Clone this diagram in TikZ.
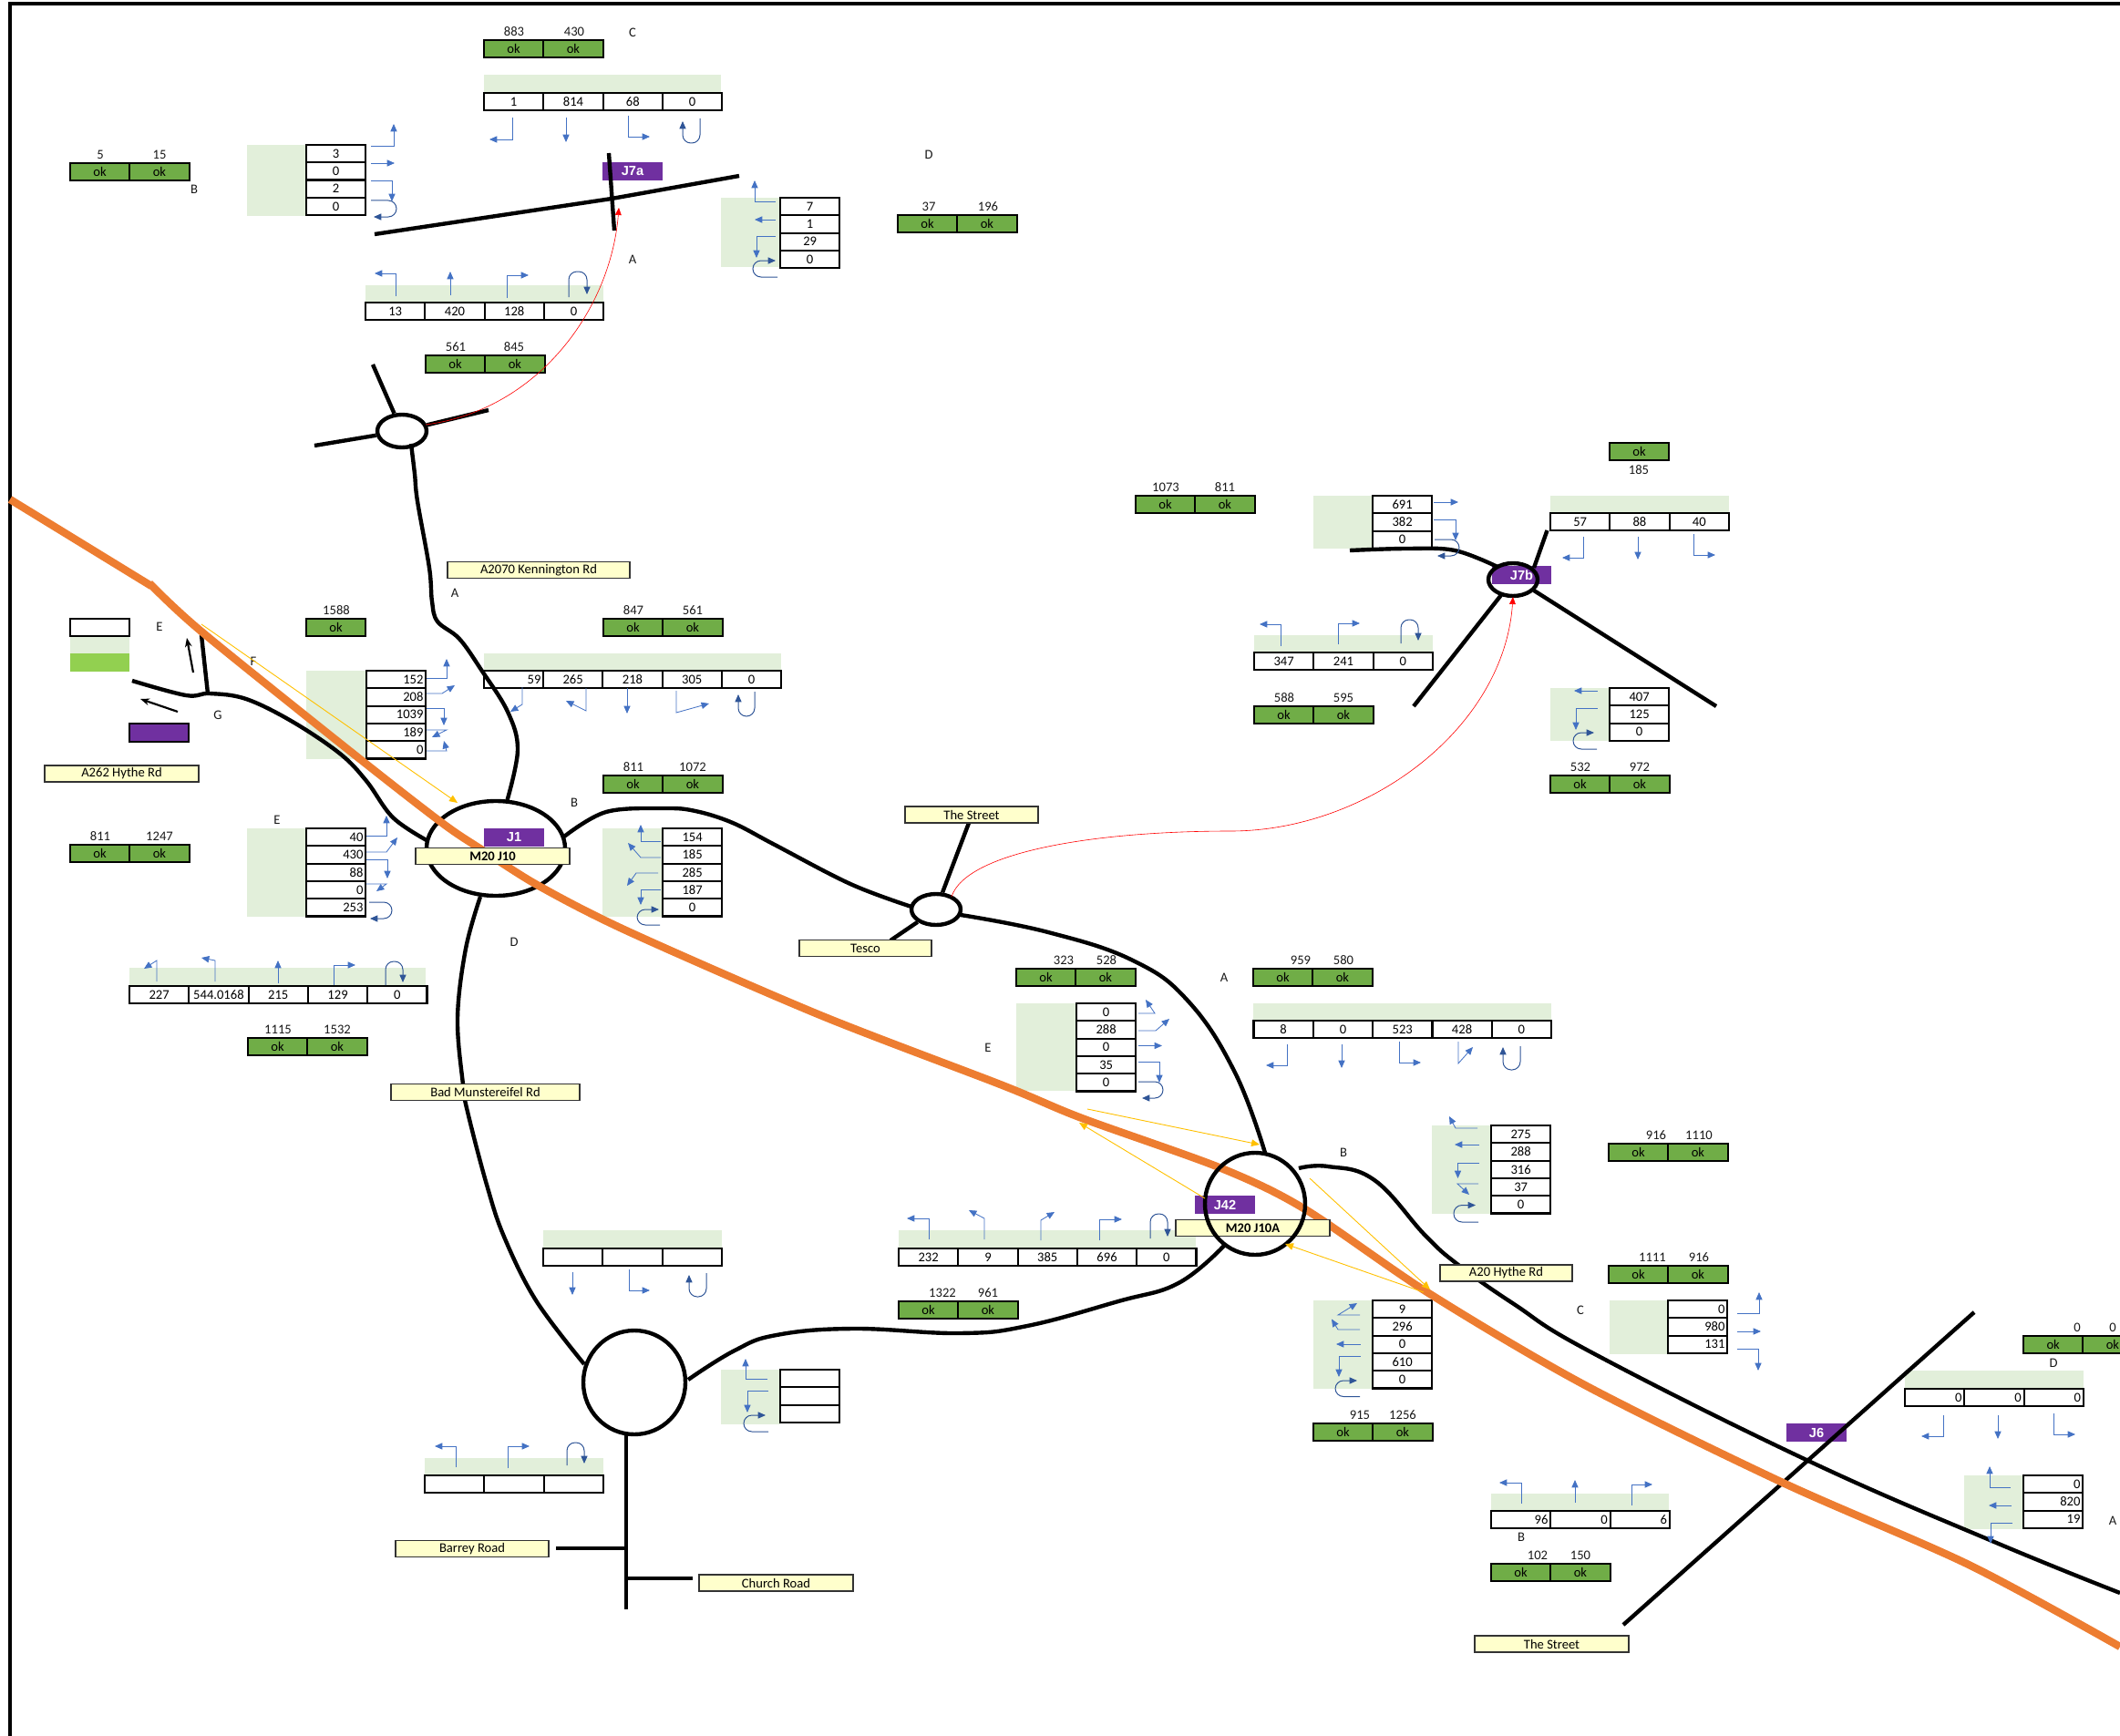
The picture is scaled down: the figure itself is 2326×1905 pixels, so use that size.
\documentclass[tikz,border=0pt]{standalone}
\usepackage{fontspec}
\setmainfont{Carlito}
\newfontfamily\jfont{Liberation Sans}
\usetikzlibrary{shapes.geometric,arrows.meta}
\definecolor{okgreen}{HTML}{70AD47}
\definecolor{lggreen}{HTML}{92D050}
\definecolor{tintgrn}{HTML}{E2EFDA}
\definecolor{jpurple}{HTML}{7030A0}
\definecolor{mwayorg}{HTML}{ED7D31}
\definecolor{rdyellow}{HTML}{FFFFCC}
\definecolor{arryell}{HTML}{FFC000}
\definecolor{turnblue}{HTML}{4472C4}
\definecolor{utrnblue}{HTML}{2F5597}
\newcommand{\tblfont}{\fontsize{7.3}{8.8}\selectfont}
\tikzset{
  cell/.style={rectangle,draw=black,fill=white,line width=1.1pt,anchor=north west,
    minimum width=32.65pt,minimum height=9.65pt,inner sep=0pt,outer sep=0pt,
    font=\tblfont,align=center},
  rcell/.style={cell,text width=29.8pt,align=right},
  okcell/.style={cell,fill=okgreen},
  num/.style={font=\tblfont,inner sep=0pt,text=black!90},
  lbl/.style={font=\tblfont,inner sep=0pt,text=black!90},
  tint/.style={fill=tintgrn,draw=none},
  jbox/.style={rectangle,fill=jpurple,text=white,font=\jfont\tblfont\bfseries,
    minimum width=32.6pt,minimum height=10pt,inner sep=0pt},
  rdbox/.style={rectangle,draw=black!80,fill=rdyellow,line width=.6pt,
    minimum height=9pt,inner sep=0pt,font=\tblfont},
  road/.style={draw=black,line width=2.2pt},
  rbt/.style={ellipse,draw=black,line width=2.2pt,inner sep=0pt},
  mway/.style={draw=mwayorg,line width=4.2pt},
  turn/.style={-{Triangle[length=4.2pt,width=3.6pt]},line width=.42pt,color=turnblue},
  uturn/.style={-{Triangle[length=4.2pt,width=3.6pt]},line width=.5pt,color=utrnblue,rounded corners=4.5pt},
  yarr/.style={-{Triangle[length=4.5pt,width=3.8pt]},line width=.45pt,color=arryell},
  rarr/.style={-{Triangle[length=4pt,width=3.4pt]},line width=.3pt,color=red},
  barr/.style={-{Stealth[length=5pt,width=3.8pt]},line width=1.1pt,color=black},
}
\begin{document}
\begin{tikzpicture}[x=.5pt,y=-.5pt]
  \useasboundingbox (0,0) rectangle (2326,1905);
  \draw[line width=2.4pt] (11,1905)--(11,4)--(2326,4);

  % shaded blocks
  \foreach \xa/\ya/\xb/\yb in {531/82/791/102,271/159/336/237,791/217/856/293,401/313/662/332,
      531/717/857/736,336/736/402/833,271/909/336/1006,661/909/727/1006,142/1062/467/1082,
      77/698/142/717,596/1350/792/1370,791/1503/856/1563,466/1600/662/1619,
      1375/1101/1702/1120,1115/1101/1181/1197,986/1350/1312/1370,1571/1235/1636/1332,
      1441/1427/1506/1524,1766/1427/1830/1486,2090/1504/2286/1524,2155/1619/2220/1678,
      1636/1639/1831/1658,1701/544/1897/563,1701/755/1766/813,1441/544/1506/602,1376/697/1572/716}
    \path[tint] (\xa,\ya) rectangle (\xb,\yb);
  \fill[lggreen] (77,717) rectangle (142,737);
  \node[cell] (lgwhite) at (77,679) {};

  % count tables
  \foreach \nm/\xa/\ya/\st/\vals in {tC/531/102/cell/{1,814,68,0},tA/401/332/cell/{13,420,128,0},
      uA/531/736/rcell/{59},uB/596/736/cell/{265,218,305,0},
      uD/142/1082/cell/{227,544.0168,215,129,0},uT/596/1370/cell/{{},{},{}},uL/466/1619/cell/{{},{},{}},
      vA/1375.5/1120/cell/{8,0,523,428,0},vW/986/1370/cell/{232,9,385,696,0},
      wD/2090/1524/rcell/{0,0,0},wB/1636/1658/rcell/{96,0,6},
      xN/1701/563/cell/{57,88,40},xS/1376/716/cell/{347,241,0}}
    \foreach \v [count=\i] in \vals
      \node[\st] (\nm\i) at ({\xa+(\i-1)*65.3},\ya) {\v};
  \foreach \nm/\xa/\ya/\st/\vals in {tB/336/159/cell/{3,0,2,0},tD/856/217/cell/{7,1,29,0},
      uF/402/736/rcell/{152,208,1039,189,0},uE/336/909/rcell/{40,430,88,0,253},
      uR/727/909/cell/{154,185,285,187,0},uM/856/1503/cell/{{},{},{}},
      vE/1181/1101/cell/{0,288,0,35,0},vB/1636/1235/cell/{275,288,316,37,0},
      vS/1506/1427/cell/{9,296,0,610,0},wC/1830/1427/rcell/{0,980,131},wA/2220/1619/rcell/{0,820,19},
      xW/1506/544/cell/{691,382,0},xE/1766/755/cell/{407,125,0}}
    \foreach \v [count=\i] in \vals
      \node[\st] (\nm\i) at (\xa,{\ya+(\i-1)*19.3}) {\v};

  % ok pairs with their counts
  \foreach \nm/\xa/\ya/\na/\xna/\nb/\xnb in {aC/531/44/883/564/430/630,aB/77/179/5/110/15/175,
      aD/985/236/37/1019/196/1084,aA/467/390/561/500/845/564,bA/662/679/847/695/561/760,
      bB/662/851/811/695/1072/760,bE/77/927/811/110/1247/175,bD/272/1139/1115/305/1532/370,
      cA/1375/1063/959/1427/580/1474,cE/1115/1063/323/1167/528/1214,cW/986/1428/1322/1034/961/1084,
      cB/1765/1255/916/1817/1110/1864,cC/1765/1389/1111/1813/916/1864,cS/1441/1562/915/1492/1256/1539,
      dW/1246/544/1073/1279/811/1344,dS/1376/775/588/1409/595/1474,dE/1701/851/532/1734/972/1799,
      eD/2220/1466/0/2279/0/2318,eB/1636/1716/102/1687/150/1734} {
    \node[okcell] (\nm a) at (\xa,\ya) {ok};
    \node[okcell] (\nm b) at ({\xa+65.3},\ya) {ok};
    \node[num] (\nm na) at (\xna,{\ya-9}) {\na};
    \node[num] (\nm nb) at (\xnb,{\ya-9}) {\nb};
  }
  \node[okcell] (bF) at (336,679) {ok};
  \node[num] (bFn) at (369,670) {1588};
  \node[okcell] (dN) at (1766,486) {ok};
  \node[num] (dNn) at (1798,516) {185};

  \foreach \t/\x/\y [count=\i] in {C/694/36,B/213/208,D/1019/170,A/694/285,A/499/651,E/175/688,F/278/726,
      G/239/785,E/304/900,B/630/881,D/564/1034,A/1343/1073,E/1084/1150,B/1474/1265,C/1734/1438,
      D/2253/1496,A/2318/1669,B/1669/1687}
    \node[lbl] (arm\i) at (\x,\y) {\t};

  % junction tags
  \node[jbox] (j7a) at (694,188) {J7a};
  \node[jbox] (j7b) at (1669.5,631) {J7b};
  \node[jbox] (j1) at (564,919) {J1};
  \node[jbox] (j42) at (1344,1322) {J42};
  \node[jbox] (j6) at (1993,1572) {J6};
  \node[jbox,draw=black,line width=1pt] (lgpurple) at (174.5,803.5) {};

  % roads
  \draw[road] (411,257)--(671,218)--(811,193);
  \draw[road] (668,168)--(674,253);
  \node[rbt,minimum width=27pt,minimum height=18pt] (rbken) at (441,473) {};
  \draw[road] (409,400)--(rbken);
  \draw[road] (345,489)--(rbken);
  \draw[road] (rbken)--(536,450);
  \node[rbt,minimum width=76pt,minimum height=52pt] (rbj1) at (544,931) {};
  \node[rbt,minimum width=27pt,minimum height=17pt] (rbtes) at (1027,998) {};
  \node[rbt,minimum width=56pt,minimum height=57pt] (rbbig) at (696,1517) {};
  \node[rbt,minimum width=27pt,minimum height=18pt] (rbj7b) at (1660,636) {};
  \draw[road] plot[smooth,tension=.6] coordinates {(451,487) (455,520) (458,550) (471,623) (474,660) (480,682) (504,701) (528,735) (557,781) (568,823) (556,880)};
  \draw[road] plot[smooth,tension=.6] coordinates {(145,747) (204,763) (230,761) (270,767) (321,792) (373,827) (402,857) (431,897) (468,922)};
  \draw[road] (221,697)--(228,761);
  \draw[road] plot[smooth,tension=.6] coordinates {(619,918) (665,891) (729,887) (763,890) (804,903) (850,927) (933,970) (1000,995)};
  \draw[road] plot[smooth,tension=.6] coordinates {(527,984) (511,1041) (502,1117) (508,1190) (513,1220) (534,1300) (553,1357) (588,1427) (641,1497)};
  \draw[road] (1063,903)--(rbtes);
  \draw[road] (rbtes)--(977,1032);
  \draw[road] plot[smooth,tension=.7] coordinates {(1054,1004) (1150,1023) (1243,1054) (1304,1099) (1355,1177) (1388,1265)};
  \draw[road] (687,1574)--(687,1766);
  \draw[road] (610,1699)--(687,1699);
  \draw[road] (687,1732)--(760,1732);
  \draw[road] plot[smooth,tension=.7] coordinates {(755,1514) (806,1482) (852,1465) (936,1458) (1053,1463) (1127,1455) (1227,1428) (1293,1408) (1343,1367)};
  \draw[road] plot[smooth,tension=.7] coordinates {(1425,1282) (1457,1280) (1508,1295) (1564,1356) (1600,1388) (1661,1431) (1748,1485) (1984,1603) (2188,1692) (2326,1748)};
  \draw[road] (2166,1440)--(1781,1783);
  \draw[road] plot[smooth,tension=.6] coordinates {(1481,604) (1543,602) (1596,604) (1643,622)};
  \draw[road] (1697.5,582)--(1683,623);
  \draw[road] (1647,653)--(1551,775);
  \draw[road] (1683,648)--(1883,775);

  % motorway
  \draw[mway] (11,548)--(166,643);
  \draw[mway] plot[smooth,tension=.5] coordinates {(164,640) (221,693) (390,829) (485,903) (528,932) (591,972) (689,1022) (900,1114) (1100,1191) (1187,1227) (1340,1282) (1432,1327) (1569,1420) (1739,1520) (1956,1627) (2160,1717) (2326,1807)};

  % road names
  \foreach \nm/\cx/\cy/\bw/\t in {rdken/591/625.5/100/A2070 Kennington Rd,rdhyt/133.5/849/84.5/A262 Hythe Rd,
      rdbad/532.5/1198.5/103.5/Bad Munstereifel Rd,rdstr/1066/894/73/The Street,rdtes/949.5/1040.5/72.5/Tesco,
      rda20/1652.5/1397/72.5/A20 Hythe Rd,rdbar/518/1699.5/84/Barrey Road,rdchu/851.5/1737/84.5/Church Road,
      rdst2/1702.5/1804/84.5/The Street}
    \node[rdbox,minimum width=\bw pt] (\nm) at (\cx,\cy) {\t};
  \node[rdbox,minimum width=84.5pt,font=\tblfont\bfseries] (rdj10) at (540.5,939.5) {M20 J10};
  \node[rdbox,minimum width=84.5pt,font=\tblfont\bfseries] (rdj10a) at (1374.5,1347.5) {M20 J10A};
  \node[rbt,minimum width=55pt,minimum height=56pt] (rbj42) at (1377,1321) {};

  % movement arrows
  \foreach \ax/\ay/\bx/\by in {407/179/433/179,621/129/621/156,494/324/494/298,851/241/828/241,
      688/755/688/783,305/1079/305/1054,628/1396/628/1421,1472/1146/1472/1172,1249/1147.5/1275/1147.5,
      1623/1256/1596/1256,1493/1475/1466/1475,1906/1461/1932/1461,2192/1553/2192/1579,2207/1652/2182/1652,
      1728/1649/1728/1624,1797/589/1797/614,1752.5/758/1727/758,1573/551/1600/551}
    \draw[turn] (\ax,\ay)--(\bx,\by);
  \foreach \ax/\ay/\bx/\by/\cx/\cy in {407/160/432/160/432/136,407/198/430/198/430/221,
      562/129/562/153/537/153,689/127/689/150/713/150,434/325/434/300/411/300,556/327/556/302/580/302,
      851/221/828/221/828/198,851/259/830/259/830/283,
      573/754/573/773/560/781,643/755/643/780/621/769,742/758/742/782/778/772,
      468/744/490/744/490/723,468/761/485/761/499/752,468/777/487/777/487/796,468/801/490/801/474/809,468/824/490/824/487/813,
      402/917/424/917/424/895,402/935/424/935/436/919,402/943/425/943/425/964,402/970/424/970/413/978,
      725/923/703/923/703/905,725/941/703/941/689/925,722/958/698/958/688/972,725/976/703/976/703/993,
      172/1077/172/1054/158/1063,236/1077/236/1054/221/1051,366/1081/366/1059/390/1059,
      690/1393/690/1416/713/1416,842/1513/818/1513/818/1491,843/1526/820/1526/820/1550,
      500/1610/500/1587/477/1587,557/1611/557/1587/581/1587,
      1412/1146/1412/1169/1389/1169,1535/1143/1535/1166/1559/1166,1600/1143/1600/1167/1616/1149,
      1249/1112/1267/1112/1257/1097,1249/1131/1268/1131/1283/1118,1249/1165/1272/1165/1272/1188,
      1019/1360/1019/1337/995/1337,1080/1360/1080/1337/1063/1328,1142/1361/1142/1339/1157/1330,1206/1361/1206/1338/1231/1338,
      1621/1238/1597/1238/1590/1225,1623/1276/1599.5/1276/1599.5/1293,1622/1299/1599/1299/1612/1311,
      1492/1443/1468/1443/1489/1430,1492/1459/1468/1459/1461/1447.5,1493/1488/1469/1488/1469/1511,
      1906/1441/1930/1441/1930/1418,1906/1480/1929/1480/1929/1504,
      2132/1553/2132/1576/2108/1576,2253/1551/2253/1574/2277/1574,
      2206/1632/2183/1632/2183/1609,2208/1671/2184/1671/2184/1694,
      1669/1650/1669/1627/1645/1627,1790/1652/1790/1629/1813/1629,
      1737.5/589/1737.5/612/1714/612,1858/586/1858/609/1882/609,
      1752.5/777/1729/777/1729/801,1573/570/1597/570/1597/593,
      1405/709/1405/685/1382/685,1468/707/1468/684/1492/684}
    \draw[turn] (\ax,\ay)--(\bx,\by)--(\cx,\cy);
  % u-turns: bulge up or down, then left or right
  \foreach \ax/\ay/\bx/\by/\cy in {768/130/749/133/157,624/326/644/323/298,828/759/810/762/786,
      423/1081/442/1078/1055,775/1397/756/1399/1423,622/1608/641/1606/1583,
      1668/1148/1649/1149/1174,1262/1359/1281/1357/1332,1537/706/1556/703/680}
    \draw[uturn] (\ax,\ay)--(\ax,\cy)--(\bx,\cy)--(\bx,\by);
  \foreach \ax/\ay/\bx/\by/\cx in {407/220/410/238/435,853/304/851/286/826,405/990/406/1008/430,
      724/1015/723/998/699,843/1571/840/1553/816,1249/1187/1253/1205/1276,1622/1341/1619/1322.5/1595,
      1492/1532.5/1489/1515/1465,1574/592/1577/610/1601,1752/822/1749/804/1726}
    \draw[uturn] (\ax,\ay)--(\cx,\ay)--(\cx,\by)--(\bx,\by);

  % route links
  \coordinate (j7atip) at (679,228);
  \coordinate (j7btip) at (1660,655);
  \draw[rarr] (467,466) .. controls (590,450) and (670,340) .. (j7atip);
  \draw[rarr] (1044,984) .. controls (1060,935) and (1200,912) .. (1350,912)
    .. controls (1500,912) and (1650,800) .. (j7btip);
  \foreach \ax/\ay/\bx/\by in {221/685/502/881,1193/1217/1382/1256,1322/1315/1184/1232,1437/1293/1569/1415,1562/1418/1410/1365}
    \draw[yarr] (\ax,\ay)--(\bx,\by);
  \draw[barr] (212,738)--(205,700);
  \draw[barr] (195,781)--(154,767);
\end{tikzpicture}
\end{document}
